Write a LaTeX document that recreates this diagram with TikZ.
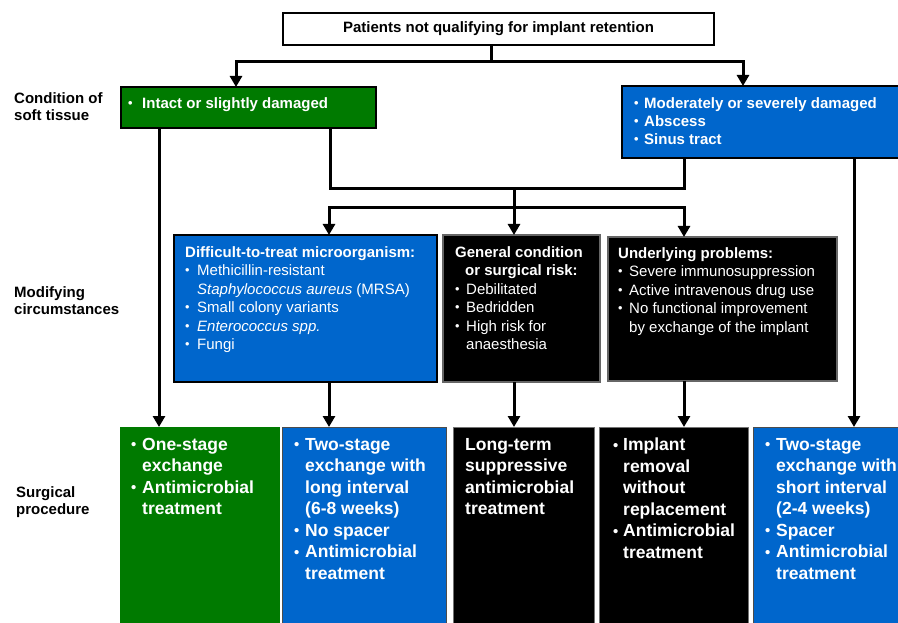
\documentclass[tikz,border=0pt]{standalone}
\usepackage{graphicx}
\usepackage{fontspec}
\setmainfont{Liberation Sans}
\usetikzlibrary{arrows.meta}
\definecolor{pgreen}{RGB}{0,122,0}
\definecolor{pblue}{RGB}{0,102,204}
\newcommand\itm[1]{\makebox[#1][l]{\raisebox{0.04em}{\scalebox{0.85}{•}}}}
\newcommand\cnt[1]{\hspace*{#1}}
\begin{document}
\begin{tikzpicture}[x=1pt,y=-1pt,
  box/.style={draw=black, line width=1.3pt, anchor=north west, inner sep=0pt, outer sep=0pt},
  sbox/.style={draw=black!70, line width=1pt, anchor=north west, inner sep=0pt, outer sep=0pt},
  lnk/.style={line width=3pt, line join=miter},
  arr/.style={line width=3pt, line join=miter, -{Triangle[length=11pt,width=12pt]}},
  lbl/.style={anchor=north west, inner sep=0pt, align=left, font=\bfseries\fontsize{15}{17}\selectfont},
  wtxt/.style={anchor=north west, inner sep=0pt, align=left, text=white},
  midf/.style={font=\fontsize{15}{18.5}\selectfont},
  bigf/.style={font=\bfseries\fontsize{17.5}{21.5}\selectfont},
  condf/.style={font=\bfseries\fontsize{15}{18}\selectfont}
]
\useasboundingbox (0,0) rectangle (898,623);
\clip (0,0) rectangle (898,623);

% ---- boxes ----
\node[box, fill=white, minimum width=431pt, minimum height=32pt] (top) at (283,13) {};
\node[box, fill=pgreen, minimum width=255pt, minimum height=41pt] (cond1) at (121,87) {};
\node[box, fill=pblue, minimum width=290pt, minimum height=72pt] (cond2) at (622,86) {};
\node[box, fill=pblue, minimum width=263pt, minimum height=147pt] (mod1) at (174,235) {};
\node[box, fill=black, draw=black!60, minimum width=157pt, minimum height=147pt] (mod2) at (443,235) {};
\node[box, fill=black, draw=black!60, minimum width=229pt, minimum height=144pt] (mod3) at (608,237) {};
\node[sbox, fill=pgreen, draw=pgreen, minimum width=159pt, minimum height=220pt] (s1) at (120,427) {};
\node[sbox, fill=pblue, minimum width=164pt, minimum height=220pt] (s2) at (282,427) {};
\node[sbox, fill=black, draw=black!55, minimum width=141pt, minimum height=220pt] (s3) at (453,427) {};
\node[sbox, fill=black, draw=black!55, minimum width=149pt, minimum height=220pt] (s4) at (599,427) {};
\node[sbox, fill=pblue, draw=black!70, minimum width=170pt, minimum height=220pt] (s5) at (753,427) {};

% ---- texts ----
\node[font=\bfseries\fontsize{15}{17}\selectfont, inner sep=0pt] (topt) at (top.center) {Patients not qualifying for implant retention};

\node[lbl] (l1) at (14,92) {Condition of\\soft tissue};
\node[lbl] (l2) at (14,286) {Modifying\\circumstances};
\node[lbl] (l3) at (16,486) {Surgical\\procedure};

\node[wtxt, condf] (cond1t) at (128,97) {\itm{14pt}Intact or slightly damaged};
\node[wtxt, condf] (cond2t) at (634,97) {\itm{10pt}Moderately or severely damaged\\\itm{10pt}Abscess\\\itm{10pt}Sinus tract};

\node[wtxt, midf] (mod1t) at (185,246) {\textbf{Difficult-to-treat microorganism:}\\\itm{12pt}Methicillin-resistant\\\cnt{12pt}\textit{Staphylococcus aureus} (MRSA)\\\itm{12pt}Small colony variants\\\itm{12pt}\textit{Enterococcus spp.}\\\itm{12pt}Fungi};
\node[wtxt, midf] (mod2t) at (455,246) {\textbf{General condition}\\\cnt{10pt}\textbf{or surgical risk:}\\\itm{11pt}Debilitated\\\itm{11pt}Bedridden\\\itm{11pt}High risk for\\\cnt{11pt}anaesthesia};
\node[wtxt, midf] (mod3t) at (618,247) {\textbf{Underlying problems:}\\\itm{11pt}Severe immunosuppression\\\itm{11pt}Active intravenous drug use\\\itm{11pt}No functional improvement\\\cnt{11pt}by exchange of the implant};

\node[wtxt, bigf] (s1t) at (131,438) {\itm{11pt}One-stage\\\cnt{11pt}exchange\\\itm{11pt}Antimicrobial\\\cnt{11pt}treatment};
\node[wtxt, bigf] (s2t) at (294,438) {\itm{11pt}Two-stage\\\cnt{11pt}exchange with\\\cnt{11pt}long interval\\\cnt{11pt}(6-8 weeks)\\\itm{11pt}No spacer\\\itm{11pt}Antimicrobial\\\cnt{11pt}treatment};
\node[wtxt, bigf] (s3t) at (465,438) {Long-term\\suppressive\\antimicrobial\\treatment};
\node[wtxt, bigf] (s4t) at (613,438) {\itm{10pt}Implant\\\cnt{10pt}removal\\\cnt{10pt}without\\\cnt{10pt}replacement\\\itm{10pt}Antimicrobial\\\cnt{10pt}treatment};
\node[wtxt, bigf] (s5t) at (765,438) {\itm{11pt}Two-stage\\\cnt{11pt}exchange with\\\cnt{11pt}short interval\\\cnt{11pt}(2-4 weeks)\\\itm{11pt}Spacer\\\itm{11pt}Antimicrobial\\\cnt{11pt}treatment};

% ---- connector coordinates ----
\coordinate (j0) at (491,62);
\coordinate (a1) at (236,62);
\coordinate (a2) at (743,62);
\coordinate (c1) at (159,0);
\coordinate (m1) at (330,189);
\coordinate (m2) at (684,189);
\coordinate (m3) at (514,189);
\coordinate (m4) at (514,208);
\coordinate (h1) at (329,208);
\coordinate (h3) at (684,208);
\coordinate (r1) at (854,0);

% ---- connectors ----
\draw[arr] (top.south -| j0) |- (a1) -- (a1 |- cond1.north);
\draw[arr] (top.south -| j0) |- (a2) -- (a2 |- cond2.north);
\draw[arr] (cond1.south -| c1) -- (s1.north -| c1);
\draw[lnk] (cond1.south -| m1) -- (m1) -- (m2) -- (cond2.south -| m2);
\draw[lnk] (m3) -- (m4);
\draw[arr] (h3) -- (h1) -- (h1 |- mod1.north);
\draw[arr] (h1) -- (h3) -- (h3 |- mod3.north);
\draw[arr] (m4) -- (m4 |- mod2.north);
\draw[arr] (mod1.south -| h1) -- (s2.north -| h1);
\draw[arr] (mod2.south -| m4) -- (s3.north -| m4);
\draw[arr] (mod3.south -| h3) -- (s4.north -| h3);
\draw[arr] (cond2.south -| r1) -- (s5.north -| r1);
\end{tikzpicture}
\end{document}
